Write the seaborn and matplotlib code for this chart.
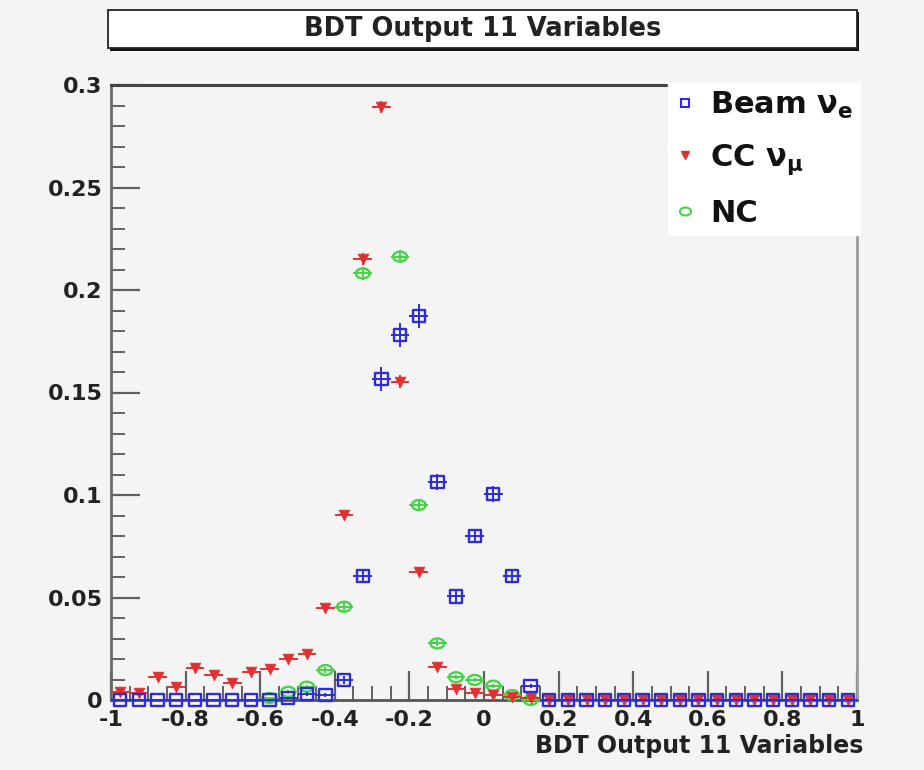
import numpy as np
import pandas as pd
import matplotlib
matplotlib.use("Agg")
import matplotlib.pyplot as plt
import seaborn as sns
from matplotlib.patches import Rectangle
from matplotlib.lines import Line2D
from matplotlib.path import Path
from matplotlib.markers import MarkerStyle
from matplotlib.transforms import Affine2D
from matplotlib.ticker import MultipleLocator, FixedLocator, FuncFormatter

# ---------------- data ----------------
bin_centers = [-0.975, -0.925, -0.875, -0.825, -0.775, -0.725, -0.675, -0.625,
               -0.575, -0.525, -0.475, -0.425, -0.375, -0.325, -0.275, -0.225,
               -0.175, -0.125, -0.075, -0.025, 0.025, 0.075, 0.125, 0.175,
               0.225, 0.275, 0.325, 0.375, 0.425, 0.475, 0.525, 0.575,
               0.625, 0.675, 0.725, 0.775, 0.825, 0.875, 0.925, 0.975]
bin_half_width = 0.025

beam_nue = [0, 0, 0, 0, 0, 0, 0, 0,
            0, 0.0008, 0.003, 0.0025, 0.0098, 0.0605, 0.1566, 0.178,
            0.1873, 0.1063, 0.0505, 0.080, 0.1005, 0.0605, 0.0068, 0,
            0, 0, 0, 0, 0, 0, 0, 0,
            0, 0, 0, 0, 0, 0, 0, 0]
beam_err = [0, 0, 0, 0, 0, 0, 0, 0,
            0, 0.0005, 0.001, 0.001, 0.002, 0.003, 0.006, 0.006,
            0.006, 0.004, 0.003, 0.003, 0.004, 0.003, 0.001, 0,
            0, 0, 0, 0, 0, 0, 0, 0,
            0, 0, 0, 0, 0, 0, 0, 0]

cc_numu = [0.0041, 0.0033, 0.0114, 0.0065, 0.0155, 0.0122, 0.0081, 0.0135,
           0.0151, 0.020, 0.0224, 0.0447, 0.0902, 0.2151, 0.2894, 0.1553,
           0.0623, 0.0163, 0.0052, 0.0036, 0.0024, 0.0016, 0.001, 0,
           0, 0, 0, 0, 0, 0, 0, 0,
           0, 0, 0, 0, 0, 0, 0, 0]
cc_err = [0.0005, 0.0005, 0.001, 0.0007, 0.001, 0.001, 0.0008, 0.001,
          0.001, 0.001, 0.001, 0.0015, 0.002, 0.003, 0.003, 0.003,
          0.002, 0.001, 0.0005, 0.0005, 0.0004, 0.0003, 0.0002, 0,
          0, 0, 0, 0, 0, 0, 0, 0,
          0, 0, 0, 0, 0, 0, 0, 0]

nan = float("nan")
nc = [nan, nan, nan, nan, nan, nan, nan, nan,
      0.001, 0.004, 0.0065, 0.0146, 0.0455, 0.2081, 0.351, 0.2163,
      0.0951, 0.0276, 0.0111, 0.0098, 0.007, 0.0024, 0.0, nan,
      nan, nan, nan, nan, nan, nan, nan, nan,
      nan, nan, nan, nan, nan, nan, nan, nan]
nc_err = [0, 0, 0, 0, 0, 0, 0, 0,
          0.0005, 0.001, 0.001, 0.0015, 0.002, 0.003, 0.004, 0.003,
          0.002, 0.0015, 0.001, 0.001, 0.001, 0.0005, 0, 0,
          0, 0, 0, 0, 0, 0, 0, 0,
          0, 0, 0, 0, 0, 0, 0, 0]

series_labels = ["Beam ν$_e$", "CC ν$_\\mu$", "NC"]
series_colors = ["#2d2dd8", "#e23030", "#44d444"]
x_ticks = [-1, -0.8, -0.6, -0.4, -0.2, 0, 0.2, 0.4, 0.6, 0.8, 1]
y_ticks = [0, 0.05, 0.1, 0.15, 0.2, 0.25, 0.3]
title_text = "BDT Output 11 Variables"
x_label = "BDT Output 11 Variables"
x_range = (-1, 1)
y_range = (0, 0.3)

# ---------------- style ----------------
sns.set_theme(style="ticks")
plt.rcParams['font.family'] = ['DejaVu Sans']
plt.rcParams['font.weight'] = 'bold'
plt.rcParams['axes.unicode_minus'] = False
plt.rcParams['mathtext.fontset'] = 'custom'
plt.rcParams['mathtext.rm'] = 'DejaVu Sans:bold'
plt.rcParams['mathtext.it'] = 'DejaVu Sans:bold'
plt.rcParams['mathtext.bf'] = 'DejaVu Sans:bold'

BG = "#f4f4f4"
W, H = 924, 770
fig = plt.figure(figsize=(W / 100, H / 100), dpi=100, facecolor=BG)
ax_l, ax_r, ax_t, ax_b = 111, 857, 85, 700
ax = fig.add_axes([ax_l / W, 1 - ax_b / H, (ax_r - ax_l) / W, (ax_b - ax_t) / H])
ax.set_facecolor(BG)

def frame(values, errs):
    df = pd.DataFrame({"x": bin_centers, "y": values, "err": errs})
    df = df.dropna()
    return df[df["y"] <= y_range[1]]

ellipse = MarkerStyle(Path.unit_circle().transformed(Affine2D().scale(1.4, 1.0)))

specs = [
    (nc, nc_err, series_colors[2], ellipse, True, 100),
    (cc_numu, cc_err, series_colors[1], "v", False, 60),
    (beam_nue, beam_err, series_colors[0], "s", True, 78),
]
for i, (vals, errs, col, mk, hollow, size) in enumerate(specs):
    df = frame(vals, errs)
    ax.errorbar(df["x"], df["y"], xerr=bin_half_width, yerr=df["err"],
                fmt="none", ecolor=col, elinewidth=1.4, capsize=0,
                clip_on=False, zorder=3 + i)
    if hollow:
        sns.scatterplot(data=df, x="x", y="y", ax=ax, marker=mk, s=size,
                        color=col, facecolor="none", edgecolor=col,
                        linewidth=1.7, clip_on=False, zorder=3.5 + i,
                        legend=False)
    else:
        sns.scatterplot(data=df, x="x", y="y", ax=ax, marker=mk, s=size,
                        color=col, edgecolor=col, linewidth=0.5,
                        clip_on=False, zorder=3.5 + i, legend=False)

ax.set_xlim(*x_range)
ax.set_ylim(*y_range)

fmt = FuncFormatter(lambda v, p: f"{v:g}")
ax.xaxis.set_major_locator(FixedLocator(x_ticks))
ax.yaxis.set_major_locator(FixedLocator(y_ticks))
ax.xaxis.set_minor_locator(MultipleLocator(0.05))
ax.yaxis.set_minor_locator(MultipleLocator(0.01))
ax.xaxis.set_major_formatter(fmt)
ax.yaxis.set_major_formatter(fmt)

ax.tick_params(axis="both", which="both", direction="in",
               top=False, right=False, colors="#606060")
ax.tick_params(axis="both", which="major", length=21, width=1.6,
               labelsize=16, labelcolor="#222222")
ax.tick_params(axis="both", which="minor", length=10, width=1.4)
ax.tick_params(axis="x", which="major", pad=7)
ax.tick_params(axis="y", which="major", pad=6)
for lab in ax.get_xticklabels() + ax.get_yticklabels():
    lab.set_fontweight("bold")

for side, col, lw in [("left", "#6a6a6a", 2.0), ("bottom", "#555555", 2.0),
                      ("top", "#444444", 2.2), ("right", "#9a9a9a", 2.0)]:
    ax.spines[side].set_visible(True)
    ax.spines[side].set_color(col)
    ax.spines[side].set_linewidth(lw)

ax.set_xlabel(x_label, fontsize=17, fontweight="bold", color="#222222")
ax.set_ylabel("")
ax.xaxis.label.set_ha("right")
ax.xaxis.label.set_va("center")
ax.xaxis.set_label_coords((863 - ax_l) / (ax_r - ax_l), (ax_b - 746) / (ax_b - ax_t))

# legend
handles = [
    Line2D([], [], ls="none", marker="s", markersize=6, markerfacecolor="none",
           markeredgecolor=series_colors[0], markeredgewidth=1.5),
    Line2D([], [], ls="none", marker="v", markersize=6,
           color=series_colors[1]),
    Line2D([], [], ls="none", marker=ellipse, markersize=8, markerfacecolor="none",
           markeredgecolor=series_colors[2], markeredgewidth=1.5),
]
leg = ax.legend(handles, series_labels, loc="upper right",
                bbox_to_anchor=(860 / W, 1 - 83 / H), bbox_transform=fig.transFigure,
                frameon=True, facecolor="white", edgecolor="white", framealpha=1,
                fancybox=False, fontsize=22, borderpad=0.22, labelspacing=0.72,
                handlelength=0.7, handletextpad=0.45, borderaxespad=0)
for t in leg.get_texts():
    t.set_fontweight("bold")
    t.set_color("#111111")
leg.set_zorder(10)

# title box
bx0, bx1, by0, by1 = 108, 857, 10, 48
fig.patches.append(Rectangle(((bx0 + 2) / W, 1 - (by1 + 2.5) / H), (bx1 - bx0) / W,
                             (by1 - by0) / H, transform=fig.transFigure,
                             facecolor="#111111", edgecolor="none", zorder=1))
fig.patches.append(Rectangle((bx0 / W, 1 - by1 / H), (bx1 - bx0) / W,
                             (by1 - by0) / H, transform=fig.transFigure,
                             facecolor="white", edgecolor="#222222", linewidth=1.3,
                             zorder=2))
fig.text((bx0 + bx1) / 2 / W, 1 - 29 / H, title_text, ha="center", va="center",
         fontsize=18.5, fontweight="bold", color="#222222", zorder=3)

fig.savefig("out.png", dpi=100, facecolor=BG)
